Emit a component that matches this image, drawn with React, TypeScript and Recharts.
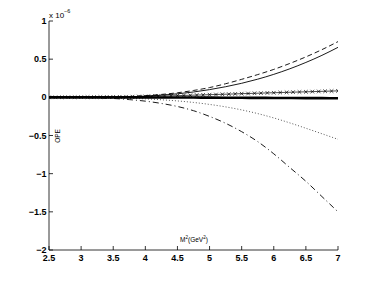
import { LineChart, Line, XAxis, YAxis } from 'recharts';

// M^2 grid (GeV^2) for the smooth curves
const m2 = [2.5, 2.75, 3, 3.25, 3.5, 3.75, 4, 4.25, 4.5, 4.75, 5, 5.25, 5.5, 5.75, 6, 6.25, 6.5, 6.75, 7];

// values in units of 1e-6
const dashedUpper = [0, 0, 0, 0.001, 0.004, 0.011, 0.022, 0.038, 0.06, 0.09, 0.128, 0.178, 0.236, 0.298, 0.366, 0.444, 0.53, 0.625, 0.73];
const solidUpper = [0, 0, 0, 0, 0.002, 0.007, 0.016, 0.028, 0.046, 0.07, 0.101, 0.139, 0.184, 0.238, 0.301, 0.374, 0.457, 0.55, 0.655];
const thickSolid = [0, 0, 0, 0, 0, -0.001, -0.001, -0.002, -0.002, -0.003, -0.004, -0.005, -0.006, -0.007, -0.008, -0.009, -0.01, -0.011, -0.012];
const dottedLower = [0, 0, -0.001, -0.003, -0.006, -0.012, -0.02, -0.032, -0.047, -0.067, -0.093, -0.125, -0.165, -0.213, -0.27, -0.335, -0.405, -0.477, -0.55];
const dashDotLower = [0, -0.001, -0.003, -0.007, -0.015, -0.03, -0.05, -0.08, -0.12, -0.175, -0.25, -0.34, -0.45, -0.58, -0.74, -0.92, -1.1, -1.3, -1.5];

// finer grid for the series drawn with x markers
const m2Fine = [
  2.5, 2.6, 2.7, 2.8, 2.9, 3.0, 3.1, 3.2, 3.3, 3.4, 3.5, 3.6, 3.7, 3.8, 3.9, 4.0, 4.1, 4.2, 4.3, 4.4, 4.5, 4.6, 4.7,
  4.8, 4.9, 5.0, 5.1, 5.2, 5.3, 5.4, 5.5, 5.6, 5.7, 5.8, 5.9, 6.0, 6.1, 6.2, 6.3, 6.4, 6.5, 6.6, 6.7, 6.8, 6.9, 7.0,
];
const crossed = [
  0, 0.0005, 0.001, 0.0015, 0.002, 0.0025, 0.003, 0.0035, 0.004, 0.005, 0.006, 0.007, 0.008, 0.009, 0.0105, 0.012,
  0.014, 0.016, 0.018, 0.02, 0.022, 0.025, 0.027, 0.03, 0.032, 0.035, 0.037, 0.04, 0.042, 0.045, 0.048, 0.05, 0.053,
  0.055, 0.058, 0.06, 0.063, 0.065, 0.068, 0.07, 0.072, 0.075, 0.077, 0.08, 0.082, 0.085,
];

const xTicks = [2.5, 3, 3.5, 4, 4.5, 5, 5.5, 6, 6.5, 7];
const yTicks = [-2, -1.5, -1, -0.5, 0, 0.5, 1];

const data = m2.map((m, i) => ({
  m2: m,
  dashedUpper: dashedUpper[i],
  solidUpper: solidUpper[i],
  thickSolid: thickSolid[i],
  dottedLower: dottedLower[i],
  dashDotLower: dashDotLower[i],
}));
const crossData = m2Fine.map((m, i) => ({ m2: m, crossed: crossed[i] }));

const FONT = '"Liberation Sans", Arial, sans-serif';
const fmt = (v: number) => String(v).replace('-', '\u2212');

const BottomTick = ({ x, y, payload }: any) => (
  <g>
    <line x1={x} y1={y} x2={x} y2={y - 4} stroke="#000" strokeWidth={0.8} />
    <text x={x} y={y + 11} textAnchor="middle" fontSize={9} fontWeight="bold" fontFamily={FONT} fill="#000">
      {fmt(payload.value)}
    </text>
  </g>
);
const TopTick = ({ x, y }: any) => <line x1={x} y1={y} x2={x} y2={y + 4} stroke="#000" strokeWidth={0.8} />;
const LeftTick = ({ x, y, payload }: any) => (
  <g>
    <line x1={x} y1={y} x2={x + 4} y2={y} stroke="#000" strokeWidth={0.8} />
    <text x={x - 2.5} y={y + 3} textAnchor="end" fontSize={9} fontWeight="bold" fontFamily={FONT} fill="#000">
      {fmt(payload.value)}
    </text>
  </g>
);
const RightTick = ({ x, y }: any) => <line x1={x} y1={y} x2={x - 4} y2={y} stroke="#000" strokeWidth={0.8} />;

const CrossDot = (p: any) => (
  <path
    key={`x-${p.index}`}
    d={`M${p.cx - 1.8},${p.cy - 1.8}L${p.cx + 1.8},${p.cy + 1.8}M${p.cx - 1.8},${p.cy + 1.8}L${p.cx + 1.8},${p.cy - 1.8}`}
    stroke="#000"
    strokeWidth={0.7}
    fill="none"
  />
);

export default function App() {
  return (
    <div style={{ position: 'absolute', left: 0, top: 0, width: 373, height: 282, background: '#fff' }}>
      <LineChart width={373} height={282} data={data} margin={{ top: 21, right: 35, bottom: 12, left: 9 }}>
        <XAxis
          dataKey="m2"
          type="number"
          domain={[2.5, 7]}
          ticks={xTicks}
          height={20}
          tickSize={0}
          tickMargin={0}
          tickLine={false}
          tick={<BottomTick />}
          axisLine={{ stroke: '#000', strokeWidth: 0.8 }}
          allowDataOverflow
        />
        <XAxis
          xAxisId="top"
          orientation="top"
          dataKey="m2"
          type="number"
          domain={[2.5, 7]}
          ticks={xTicks}
          height={0}
          tickSize={0}
          tickMargin={0}
          tickLine={false}
          tick={<TopTick />}
          axisLine={{ stroke: '#000', strokeWidth: 0.8 }}
        />
        <YAxis
          type="number"
          domain={[-2, 1]}
          ticks={yTicks}
          width={40}
          tickSize={0}
          tickMargin={0}
          tickLine={false}
          tick={<LeftTick />}
          axisLine={{ stroke: '#000', strokeWidth: 0.8 }}
          allowDataOverflow
        />
        <YAxis
          yAxisId="right"
          orientation="right"
          type="number"
          domain={[-2, 1]}
          ticks={yTicks}
          width={0}
          tickSize={0}
          tickMargin={0}
          tickLine={false}
          tick={<RightTick />}
          axisLine={{ stroke: '#000', strokeWidth: 0.8 }}
        />
        <Line dataKey="dottedLower" stroke="#444" strokeWidth={0.9} strokeDasharray="1 2" dot={false} type="monotone" isAnimationActive={false} />
        <Line dataKey="dashDotLower" stroke="#000" strokeWidth={0.9} strokeDasharray="6 3 1 3" dot={false} type="monotone" isAnimationActive={false} />
        <Line dataKey="dashedUpper" stroke="#000" strokeWidth={0.9} strokeDasharray="5 3" dot={false} type="monotone" isAnimationActive={false} />
        <Line dataKey="solidUpper" stroke="#000" strokeWidth={0.9} dot={false} type="monotone" isAnimationActive={false} />
        <Line data={crossData} dataKey="crossed" stroke="#000" strokeWidth={0.7} dot={<CrossDot />} type="monotone" isAnimationActive={false} />
        <Line dataKey="thickSolid" stroke="#000" strokeWidth={2.6} dot={false} type="monotone" isAnimationActive={false} />
      </LineChart>
      <svg width={373} height={282} style={{ position: 'absolute', left: 0, top: 0, pointerEvents: 'none' }}>
        <text x={49} y={18} fontSize={8} fontFamily={FONT} fill="#000">
          x 10
        </text>
        <text x={64} y={13} fontSize={5.5} fontFamily={FONT} fill="#000">
          {'\u22126'}
        </text>
        <text x={0} y={0} fontSize={6.5} fontFamily={FONT} fill="#000" textAnchor="middle" transform="translate(60 136) rotate(-90)">
          OPE
        </text>
        <text x={194} y={242} fontSize={6.5} fontFamily={FONT} fill="#000" textAnchor="middle">
          M
          <tspan dy={-3} fontSize={4.5}>2</tspan>
          <tspan dy={3}>(GeV</tspan>
          <tspan dy={-3} fontSize={4.5}>2</tspan>
          <tspan dy={3}>)</tspan>
        </text>
      </svg>
    </div>
  );
}
